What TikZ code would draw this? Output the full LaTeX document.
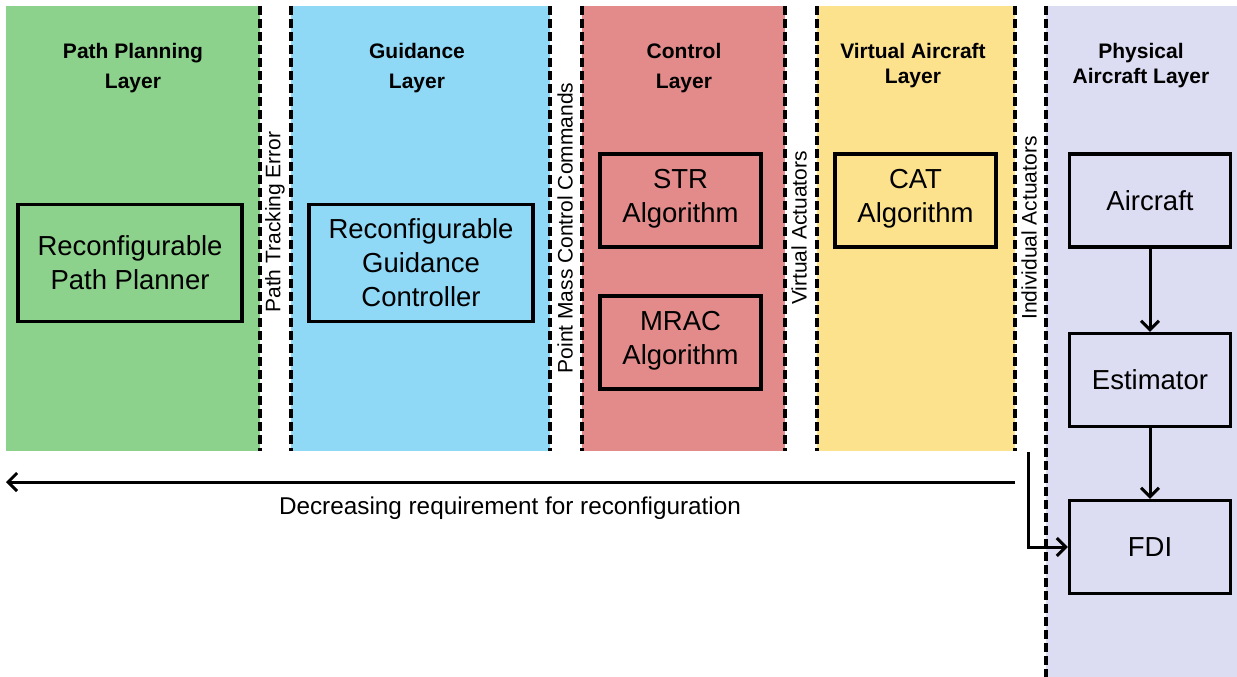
\documentclass[tikz,border=0pt]{standalone}
\usepackage{fontspec}
\setmainfont{Liberation Sans}
\usetikzlibrary{arrows.meta}

\definecolor{planfill}{RGB}{140,209,140}
\definecolor{guidefill}{RGB}{143,217,247}
\definecolor{ctrlfill}{RGB}{227,139,138}
\definecolor{virtfill}{RGB}{253,226,142}
\definecolor{physfill}{RGB}{220,220,242}

\tikzset{
  bandedge/.style={line width=3.5pt, dash pattern=on 9pt off 4pt},
  blk/.style={draw, line width=3.2pt, align=center, inner sep=0pt,
              font=\fontsize{27.5}{34}\selectfont},
  layertitle/.style={align=center, font=\bfseries\fontsize{21}{30}\selectfont},
  layertitletight/.style={align=center, font=\bfseries\fontsize{21}{25}\selectfont},
  vlabel/.style={rotate=90, inner sep=0pt, font=\fontsize{21}{25}\selectfont},
  link/.style={line width=3pt, -{Straight Barb[length=9pt,width=18pt]}}
}

\begin{document}
\begin{tikzpicture}[x=1pt,y=-1pt]
\useasboundingbox (0,0) rectangle (1237,677);

% layer bands
\fill[planfill]  (6,6)    rectangle (260,451);
\fill[guidefill] (291,6)  rectangle (550,451);
\fill[ctrlfill]  (582,6)  rectangle (785,451);
\fill[virtfill]  (817,6)  rectangle (1015,451);
\fill[physfill]  (1046,6) rectangle (1237,677);

% dashed band borders
\draw[bandedge] (260,6) -- (260,451);
\draw[bandedge] (291,6) -- (291,451);
\draw[bandedge] (550,6) -- (550,451);
\draw[bandedge] (582,6) -- (582,451);
\draw[bandedge] (785,6) -- (785,451);
\draw[bandedge] (817,6) -- (817,451);
\draw[bandedge] (1015,6) -- (1015,451);
\draw[bandedge] (1046,6) -- (1046,677);

% layer titles
\node[layertitle] (tplan) at (133,68) {Path Planning\\Layer};
\node[layertitle] (tguide) at (417,68) {Guidance\\Layer};
\node[layertitle] (tctrl) at (684,68) {Control\\Layer};
\node[layertitletight] (tvirt) at (913,65.5) {Virtual Aircraft\\Layer};
\node[layertitletight] (tphys) at (1141,65.5) {Physical\\Aircraft Layer};

% interface labels between layers
\node[vlabel] (ltrack) at (275,222) {Path Tracking Error};
\node[vlabel] (lpm) at (565,228) {Point Mass Control Commands};
\node[vlabel] (lvirt) at (799,228) {Virtual Actuators};
\node[vlabel] (lind) at (1029,228) {Individual Actuators};

% blocks
\node[blk, minimum width=224pt, minimum height=117pt] (planner) at (130,263) {Reconfigurable\\Path Planner};
\node[blk, minimum width=224pt, minimum height=117pt] (guidance) at (421,263) {Reconfigurable\\Guidance\\Controller};
\node[blk, minimum width=161pt, minimum height=93pt] (str) at (680.5,200.5) {STR\\Algorithm\rule[-10pt]{0pt}{0pt}};
\node[blk, minimum width=161pt, minimum height=93pt] (mrac) at (680.5,342.5) {MRAC\\Algorithm\rule[-10pt]{0pt}{0pt}};
\node[blk, minimum width=161pt, minimum height=93pt] (cat) at (915.5,200.5) {CAT\\Algorithm\rule[-10pt]{0pt}{0pt}};
\node[blk, minimum width=161pt, minimum height=93pt] (aircraft) at (1150,200.5) {Aircraft};
\node[blk, minimum width=161pt, minimum height=93pt] (estimator) at (1150,380) {Estimator};
\node[blk, minimum width=161pt, minimum height=93pt] (fdi) at (1150,547) {FDI};

% signal flow in the physical layer
\draw[link] (aircraft) -- (estimator);
\draw[link] (estimator) -- (fdi);
\coordinate (tap) at (1028,452);
\draw[link] (tap) |- (fdi.west);

% reconfiguration trend
\coordinate (trendstart) at (1015,482);
\coordinate (trendend) at (6,482);
\draw[link] (trendstart) -- (trendend);
\node[font=\fontsize{24.3}{28}\selectfont] (trendtext) at (510,508) {Decreasing requirement for reconfiguration};

\end{tikzpicture}
\end{document}
